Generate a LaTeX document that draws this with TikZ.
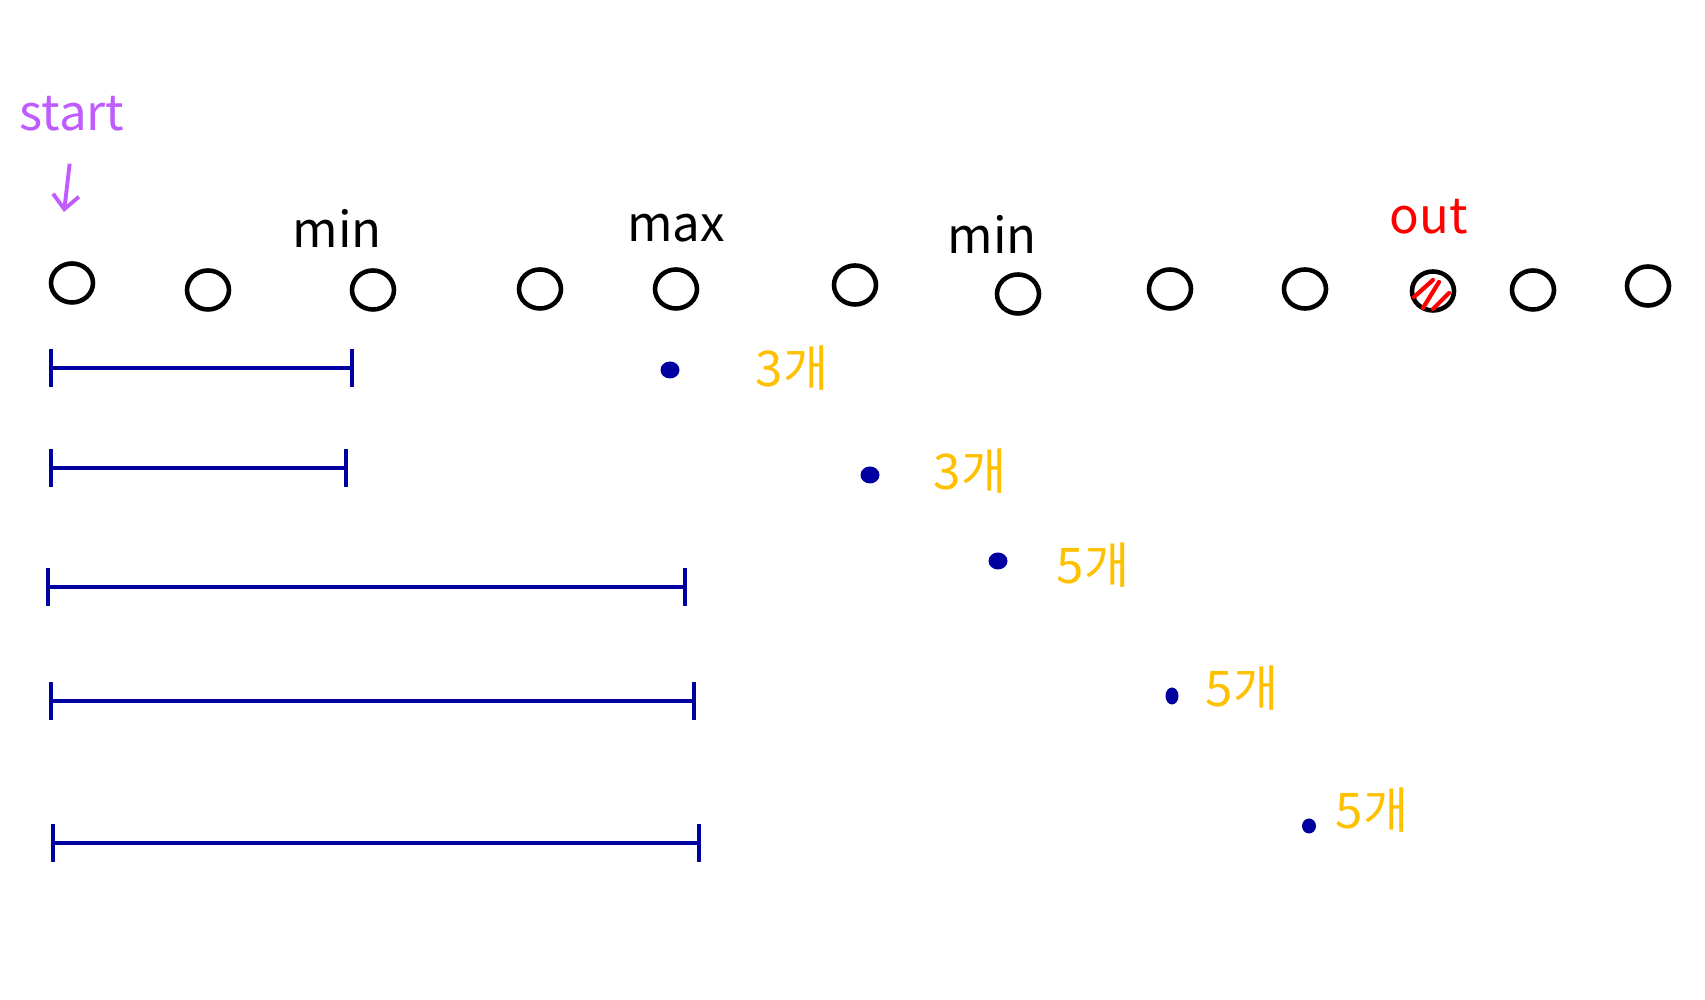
\documentclass[tikz,border=0pt]{standalone}
\usepackage{fontspec}
\setmainfont{Noto Sans CJK KR}
\newfontfamily\kr{Noto Sans CJK KR}
\usetikzlibrary{arrows.meta,shapes.geometric}

\definecolor{startpurple}{RGB}{192,92,255}
\definecolor{penblue}{RGB}{0,0,160}
\definecolor{penyellow}{RGB}{255,192,0}

\tikzset{
    ring/.style={draw, ellipse, line width=1.3pt, inner sep=0pt, minimum width=0.42cm, minimum height=0.39cm},
    blob/.style={fill=penblue, ellipse, inner sep=0pt, minimum width=0.19cm, minimum height=0.17cm},
    span/.style={penblue, line width=1.1pt, {Bar[width=0.38cm]}-{Bar[width=0.38cm]}},
    word/.style={font=\fontsize{14}{17}\selectfont},
    count/.style={penyellow, font=\kr\fontsize{14}{17}\selectfont}
}

\begin{document}
\begin{tikzpicture}
    % the frame
    \useasboundingbox (0,0) rectangle (17.05,-10);

    % the row
    \foreach \x/\y [count=\i] in {0.72/2.83, 2.08/2.90, 3.73/2.90, 5.40/2.89, 6.76/2.89, 8.55/2.85,
                                  10.18/2.94, 11.70/2.89, 13.05/2.89, 14.33/2.91, 15.33/2.90, 16.48/2.86} {
        \node[ring] (c\i) at (\x,-\y) {};
    };

    % labels above the row
    \node[startpurple, word] (start) at (0.72,-1.14) {start};
    \coordinate (tip) at (0.64,-2.12);
    \draw[startpurple, line width=1.1pt, -{Straight Barb[length=0.14cm, width=0.26cm]}, shorten <=0.2cm] (start.south) -- (tip);
    \node[word] (min1) at (3.37,-2.28) {min};
    \node[word] (max) at (6.76,-2.28) {max};
    \node[word] (min2) at (9.92,-2.34) {min};
    \node[red, word] (out) at (14.29,-2.17) {out};

    % the crossed one
    \draw[red, line width=1.2pt, line cap=round] ([shift={(-0.19,-0.06)}]c10.center) -- ([shift={(0.00,0.11)}]c10.center);
    \draw[red, line width=1.2pt, line cap=round] ([shift={(-0.10,-0.17)}]c10.center) -- ([shift={(0.06,0.09)}]c10.center);
    \draw[red, line width=1.2pt, line cap=round] ([shift={(0.00,-0.18)}]c10.center) -- ([shift={(0.16,-0.02)}]c10.center);

    % the spans
    \foreach \y/\a/\b [count=\i] in {3.68/0.49/3.54, 4.68/0.49/3.48, 5.87/0.46/6.87, 7.01/0.49/6.96, 8.43/0.51/7.01} {
        \coordinate (l\i) at (\a,-\y);
        \coordinate (r\i) at (\b,-\y);
        \draw[span] (l\i) -- (r\i);
    };

    % the dots and counts
    \node[blob] (d1) at (6.70,-3.70) {};
    \node[blob] (d2) at (8.70,-4.75) {};
    \node[blob] (d3) at (9.98,-5.61) {};
    \node[blob, minimum width=0.13cm] (d4) at (11.72,-6.96) {};
    \node[blob, minimum width=0.14cm, minimum height=0.15cm] (d5) at (13.09,-8.26) {};

    \node[count] (n1) at (7.92,-3.68) {3개};
    \node[count] (n2) at (9.70,-4.71) {3개};
    \node[count] (n3) at (10.93,-5.65) {5개};
    \node[count] (n4) at (12.42,-6.88) {5개};
    \node[count] (n5) at (13.72,-8.10) {5개};

\end{tikzpicture}
\end{document}
